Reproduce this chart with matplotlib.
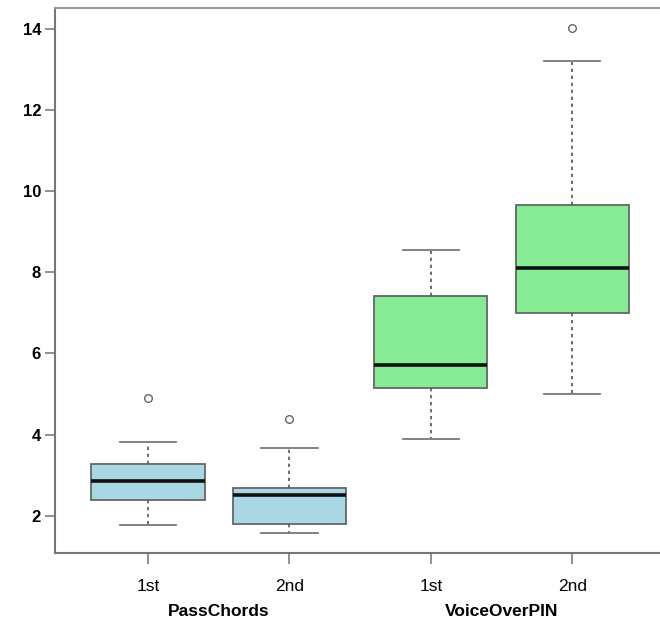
import matplotlib.pyplot as plt

plt.rcParams['font.family'] = ['Liberation Sans', 'DejaVu Sans']

# values
conditions = ['1st', '2nd', '1st', '2nd']
groups = ['PassChords', 'VoiceOverPIN']
box_colors = ['#A9D8E4', '#A9D8E4', '#87EB96', '#87EB96']

whisker_low = [1.78, 1.58, 3.89, 5.00]
q1 = [2.39, 1.80, 5.15, 6.99]
medians = [2.86, 2.52, 5.71, 8.10]
q3 = [3.28, 2.69, 7.41, 9.67]
whisker_high = [3.82, 3.67, 8.54, 13.21]
outliers = [[4.90], [4.38], [], [14.02]]

stats = []
for i in range(len(medians)):
    stats.append({
        'whislo': whisker_low[i], 'q1': q1[i], 'med': medians[i],
        'q3': q3[i], 'whishi': whisker_high[i], 'fliers': outliers[i],
    })

fig = plt.figure(figsize=(6.6, 6.38), dpi=100)
ax = fig.add_axes([0.0833, 0.1332, 0.955, 0.8543])

positions = [1, 2, 3, 4]
bp = ax.bxp(stats, positions=positions, widths=0.8, patch_artist=True,
            showfliers=True,
            boxprops=dict(edgecolor='#666666', linewidth=1.3),
            medianprops=dict(color='#111111', linewidth=2.6),
            whiskerprops=dict(color='#555555', linewidth=1.2, linestyle=(0, (2, 2.2))),
            capprops=dict(color='#777777', linewidth=1.3),
            flierprops=dict(marker='o', markerfacecolor='none', markeredgecolor='#666666',
                            markersize=5.5, markeredgewidth=1.0))
for patch, c in zip(bp['boxes'], box_colors):
    patch.set_facecolor(c)
for cap in bp['caps']:
    xd = cap.get_xdata()
    mid = (xd[0] + xd[1]) / 2
    cap.set_xdata([mid - 0.2, mid + 0.2])

ax.set_xlim(0.342, 4.8)
ax.set_ylim(1.08, 14.52)
ax.set_yticks([2, 4, 6, 8, 10, 12, 14])
ax.set_xticks(positions)
ax.set_xticklabels(conditions)

for s in ax.spines.values():
    s.set_color('#999999')
    s.set_linewidth(1.5)
ax.spines['left'].set_color('#777777')
ax.spines['bottom'].set_color('#777777')

ax.tick_params(axis='y', length=7, width=1.3, color='#888888', labelsize=12, pad=3)
ax.tick_params(axis='x', length=8, width=1.3, color='#888888', labelsize=12.5, pad=11)
for lbl in ax.get_yticklabels():
    lbl.set_fontweight('semibold')

for i, g in enumerate(groups):
    ax.text(1.5 + 2 * i, -0.108, g, transform=ax.get_xaxis_transform(),
            ha='center', va='center', fontsize=12.5, fontweight='bold')

fig.savefig('out.png', dpi=100)
